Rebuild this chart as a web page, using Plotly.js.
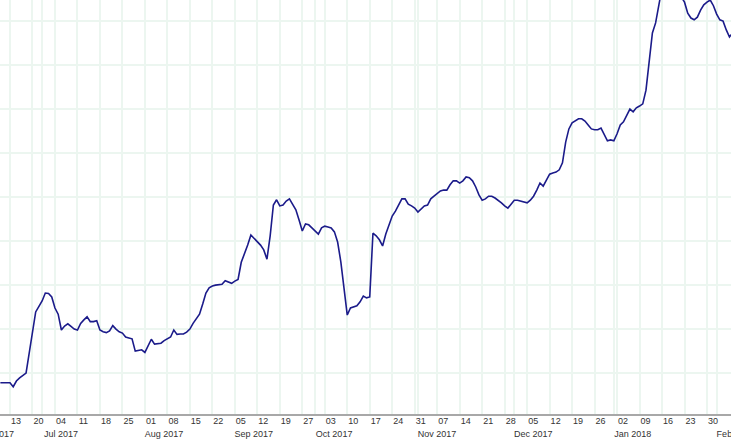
<!DOCTYPE html>
<html>
<head>
<meta charset="utf-8">
<script src="https://cdn.plot.ly/plotly-3.0.1.min.js"></script>
<style>
html,body{margin:0;padding:0;background:#fff;overflow:hidden;}
#chart{width:731px;height:445px;}
</style>
</head>
<body>
<div id="chart"></div>
<script>
// x = position of the data point in the series (one slot per observation)
const pointIndex = [-3,-2,-1,0,1,2,3,4,5,8,9,10,11,12,13,14,15,16,17,18,19,20,21,22,23,24,25,26,27,28,29,30,31,32,33,34,35,36,37,38,39,40,41,42,43,44,45,46,47,48,49,50,51,52,53,54,55,56,57,58,59,60,61,62,63,64,65,66,67,68,69,70,71,72,73,74,75,76,77,78,79,80,81,82,83,84,85,86,87,88,89,90,91,92,93,94,95,96,97,98,99,100,101,102,103,104,105,106,107,108,109,110,111,112,113,114,115,116,117,118,119,120,121,122,123,124,125,126,127,128,129,130,131,132,133,134,135,136,137,138,139,140,141,142,143,144,145,146,147,148,149,150,151,152,153,154,155,156,157,158,159,160,161,162,163,164,165,166,167,168,169,170,171,172,173,174,175,176,177,178,179,180,181,182,183,184,185,186,187,188,189,190,191,192,193,194,195,196,197,198,199,200,201,202,203,204,205,206,207,208,209,210,211,212,213,214,215,216,217,218,219,220,221,222,223,224,225];
const values = [77,77,78,77,68,81,88,93,99,238,250,263,281,280,272,247,233,197,206,211,205,199,197,212,220,227,216,216,218,197,193,191,195,207,199,193,190,181,179,177,149,151,152,146,161,176,165,166,167,173,177,181,197,187,188,188,192,199,212,222,233,256,281,293,297,299,300,301,309,306,303,308,312,351,370,390,413,406,397,390,379,358,411,481,493,479,481,490,495,481,470,447,422,438,436,429,422,415,429,433,431,429,420,397,352,288,231,247,249,252,261,274,270,272,417,411,402,388,415,438,456,467,481,495,495,483,479,474,465,472,479,481,495,501,508,513,515,515,527,536,536,531,536,545,543,536,522,504,492,495,501,501,497,492,486,479,474,483,492,492,490,488,486,492,501,515,531,524,538,551,554,556,561,577,624,654,668,672,677,677,672,663,654,652,652,656,643,627,629,627,643,663,670,686,699,693,702,706,711,742,811,872,895,940,981,1015,1030,1025,1010,990,954,942,917,906,902,908,924,936,942,947,934,915,902,899,879,863,872];

// weekly tick labels
const weekTickIndex = [0,7,14,21,28,35,42,49,56,63,70,77,84,91,98,105,112,119,126,133,140,147,154,161,168,175,182,189,196,203,210,217];
const weekTickText = ["13","20","04","11","18","25","01","08","15","22","05","12","19","27","03","10","17","24","31","07","14","21","28","05","12","19","26","02","09","16","23","30"];

// month boundaries
const monthStartIndex = [10,42,70,95,127,157,188,220];
const monthText = ["Jul 2017","Aug 2017","Sep 2017","Oct 2017","Nov 2017","Dec 2017","Jan 2018","Feb 2018"];
const firstMonthText = "Jun 2017";

const xRange = [-3.11, 224.47];
const gridCol = "#ecf6f0";
const tickFont = {family: "Liberation Sans, Arial, sans-serif", size: 9, color: "#333333"};

const trace = {
  x: pointIndex,
  y: values,
  type: "scatter",
  mode: "lines",
  line: {color: "#1b1b8a", width: 1.6},
  hoverinfo: "skip",
  xaxis: "x",
  yaxis: "y"
};

const layout = {
  width: 731,
  height: 445,
  margin: {l: 0, r: 0, t: 0, b: 31, pad: 0},
  paper_bgcolor: "#ffffff",
  plot_bgcolor: "#ffffff",
  showlegend: false,
  xaxis: {
    range: xRange,
    tickmode: "array",
    tickvals: weekTickIndex,
    ticktext: weekTickText,
    showgrid: true,
    gridcolor: gridCol,
    gridwidth: 2,
    zeroline: false,
    showline: true,
    linecolor: "#a8a8a8",
    linewidth: 2,
    ticks: "",
    tickfont: tickFont,
    ticklabelshift: 6,
    ticklabelstandoff: -3,
    ticklabeloverflow: "allow",
    fixedrange: true
  },
  xaxis2: {
    overlaying: "x",
    anchor: "y",
    side: "bottom",
    range: xRange,
    tickmode: "array",
    tickvals: monthStartIndex,
    ticktext: monthText,
    showgrid: true,
    gridcolor: gridCol,
    gridwidth: 2,
    zeroline: false,
    showline: false,
    ticks: "",
    tickfont: tickFont,
    ticklabelshift: 19,
    ticklabelstandoff: 13,
    ticklabeloverflow: "allow",
    fixedrange: true
  },
  yaxis: {
    range: [6.1, 947],
    tickmode: "linear",
    tick0: 0,
    dtick: 100,
    showticklabels: false,
    showgrid: true,
    gridcolor: gridCol,
    gridwidth: 2,
    zeroline: false,
    showline: false,
    ticks: "",
    fixedrange: true
  },
  annotations: [{
    xref: "paper", yref: "paper",
    x: -25 / 731, y: -0.0495,
    xanchor: "left", yanchor: "middle",
    text: firstMonthText,
    showarrow: false,
    font: tickFont
  }]
};

// invisible trace so xaxis2 is instantiated
const axisTrace = {
  x: [monthStartIndex[0]], y: [null], type: "scatter", mode: "markers",
  xaxis: "x2", yaxis: "y", hoverinfo: "skip", showlegend: false,
  marker: {opacity: 0}
};

Plotly.newPlot("chart", [axisTrace, trace], layout, {displayModeBar: false, staticPlot: true});
</script>
</body>
</html>
